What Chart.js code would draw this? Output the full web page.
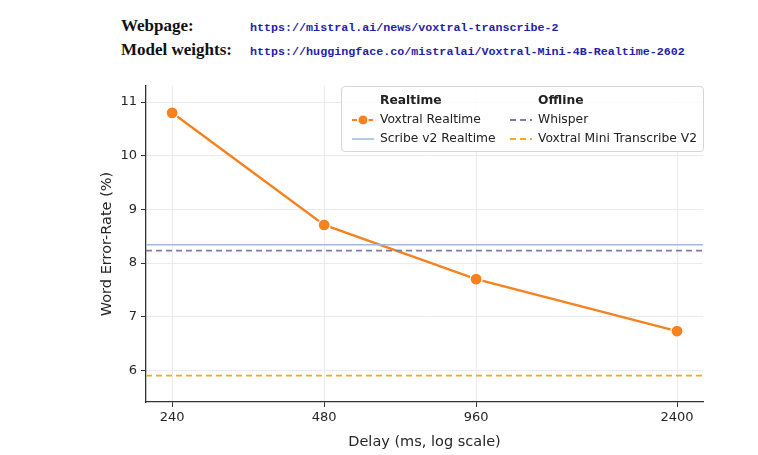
<!DOCTYPE html>
<html lang="en">
<head>
  <meta charset="UTF-8" />
  <title>Voxtral Realtime WER vs delay</title>
  <style>
    * { margin: 0; padding: 0; }
    body { width: 758px; height: 455px; background: #fff; position: relative; overflow: hidden; }
    .head { position: absolute; left: 121px; top: 15px; line-height: 22px; }
    .head div { white-space: nowrap; }
    .head b { font-family: "Liberation Serif", "DejaVu Serif", serif; font-size: 17px; display: inline-block; width: 129px; color: #111; }
    .head span { font-family: "Liberation Mono", "DejaVu Sans Mono", monospace; font-size: 11.7px; color: #1f23a8; font-weight: bold; }
    .chartBox { position: absolute; left: 0; top: 0; width: 758px; height: 455px; }
    .legend {
      position: absolute; left: 341px; top: 86px; width: 361px; height: 64px;
      border: 1px solid #d6d6d6; border-radius: 4px; background: rgba(255,255,255,0.85);
      font-family: "DejaVu Sans", sans-serif; font-size: 12.3px; color: #222;
    }
    .legend .col { position: absolute; top: 4px; }
    .legend .ttl { font-weight: bold; margin-left: 38px; height: 19px; line-height: 19px; }
    .legend .row { height: 19px; line-height: 19px; position: relative; padding-left: 38px; white-space: nowrap; }
    .legend svg { position: absolute; left: 9px; top: 3px; }
  </style>
</head>
<body>
  <div class="head">
    <div><b>Webpage:</b><span>https://mistral.ai/news/voxtral-transcribe-2</span></div>
    <div><b>Model weights:</b><span>https://huggingface.co/mistralai/Voxtral-Mini-4B-Realtime-2602</span></div>
  </div>
  <div class="chartBox">
    <canvas id="myChart" width="758" height="455"></canvas>
  </div>
  <div class="legend">
    <div class="col" style="left:0">
      <div class="ttl">Realtime</div>
      <div class="row"><svg width="24" height="14"><line x1="1" y1="7" x2="23" y2="7" stroke="#f5821f" stroke-width="2" stroke-dasharray="5,3"/><circle cx="12" cy="7" r="5" fill="#f5821f" stroke="#fff" stroke-width="1"/></svg>Voxtral Realtime</div>
      <div class="row"><svg width="24" height="14"><line x1="1" y1="7" x2="23" y2="7" stroke="#a3badf" stroke-width="1.6"/></svg>Scribe v2 Realtime</div>
    </div>
    <div class="col" style="left:158px">
      <div class="ttl">Offline</div>
      <div class="row"><svg width="24" height="14"><line x1="1" y1="7" x2="23" y2="7" stroke="#7b7ca8" stroke-width="1.8" stroke-dasharray="6,4"/></svg>Whisper</div>
      <div class="row"><svg width="24" height="14"><line x1="1" y1="7" x2="23" y2="7" stroke="#f2a72a" stroke-width="1.8" stroke-dasharray="6,4"/></svg>Voxtral Mini Transcribe V2</div>
    </div>
  </div>
  <script src="https://cdn.jsdelivr.net/npm/chart.js@4"></script>
  <script>
    // data
    const delays = [240, 480, 960, 2400];
    const voxtralRealtime = [10.8, 8.71, 7.7, 6.73];
    const scribeV2 = 8.34;
    const whisper = 8.23;
    const voxtralMini = 5.9;
    const xTicks = [240, 480, 960, 2400];
    const yTicks = [6, 7, 8, 9, 10, 11];

    const xMin = 213, xMax = 2702;
    const yMin = 5.41, yMax = 11.3;

    Chart.defaults.font.family = "'DejaVu Sans', sans-serif";
    Chart.defaults.font.size = 13;
    Chart.defaults.color = "#262626";

    function flat(v) {
      return [{ x: xMin, y: v }, { x: xMax, y: v }];
    }

    const data = {
      datasets: [
        {
          label: "Voxtral Mini Transcribe V2",
          data: flat(voxtralMini),
          borderColor: "#f2a72a",
          borderWidth: 1.8,
          borderDash: [6, 4],
          pointRadius: 0,
        },
        {
          label: "Whisper",
          data: flat(whisper),
          borderColor: "#7b7ca8",
          borderWidth: 1.8,
          borderDash: [6, 4],
          pointRadius: 0,
        },
        {
          label: "Scribe v2 Realtime",
          data: flat(scribeV2),
          borderColor: "#a3badf",
          borderWidth: 1.6,
          pointRadius: 0,
        },
        {
          label: "Voxtral Realtime",
          data: delays.map((d, i) => ({ x: d, y: voxtralRealtime[i] })),
          borderColor: "#f5821f",
          backgroundColor: "#f5821f",
          borderWidth: 2.4,
          pointRadius: 6,
          pointBorderColor: "#ffffff",
          pointBorderWidth: 1.2,
          pointBackgroundColor: "#f5821f",
        },
      ],
    };

    const options = {
      responsive: false,
      animation: false,
      layout: { padding: { left: 95, right: 55, top: 86, bottom: 0 } },
      scales: {
        x: {
          type: "logarithmic",
          min: xMin,
          max: xMax,
          afterBuildTicks: (scale) => {
            scale.ticks = xTicks.map((v) => ({ value: v }));
          },
          afterFit: (scale) => { scale.height = 53; },
          ticks: {
            callback: (v) => String(v),
            padding: 3,
            maxRotation: 0,
          },
          grid: { color: "#ebebeb", lineWidth: 1, tickLength: 5, tickColor: "#333" },
          border: { color: "#333", width: 1.3 },
          title: { display: true, text: "Delay (ms, log scale)", font: { size: 14.5 }, padding: { top: -3 } },
        },
        y: {
          min: yMin,
          max: yMax,
          afterBuildTicks: (scale) => {
            scale.ticks = yTicks.map((v) => ({ value: v }));
          },
          afterFit: (scale) => { scale.width = 51; },
          ticks: { padding: 4 },
          grid: { color: "#ebebeb", lineWidth: 1, tickLength: 5, tickColor: "#333" },
          border: { color: "#333", width: 1.3 },
          title: { display: true, text: "Word Error-Rate (%)", font: { size: 14.5 }, padding: { bottom: 0 } },
        },
      },
      plugins: {
        legend: { display: false },
        tooltip: { enabled: false },
      },
    };

    const ctx = document.getElementById("myChart").getContext("2d");
    const myChart = new Chart(ctx, { type: "line", data: data, options: options });
  </script>
</body>
</html>
